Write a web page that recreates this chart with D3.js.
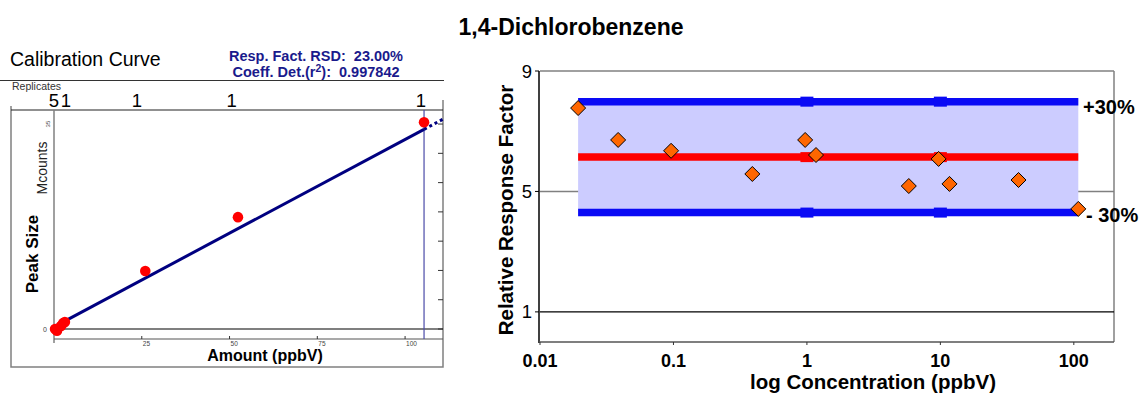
<!DOCTYPE html>
<html><head><meta charset="utf-8">
<script src="https://cdn.jsdelivr.net/npm/d3@7"></script>
<style>
body{margin:0;background:#fff;}
svg{display:block;font-family:"Liberation Sans",Arial,sans-serif;}
</style></head>
<body><svg id="c" width="1144" height="394"></svg>
<script>
// ---------- data ----------
const chartTitle = "1,4-Dichlorobenzene";
// calibration curve (left)
const calAmount = [0.3, 0.85, 2.0, 2.6, 3.1, 26.0, 52.4, 105.4];
const calPeak   = [0.0, -0.3, 0.5, 1.0, 1.2, 9.9, 19.1, 35.3];
const fitIntercept = 0.37, fitSlope = 0.32;
const fitStart = 0.8, fitEnd = 105.4, fitExtendTo = 110.8;
const replicateLevels = [0.0, 3.4, 23.6, 50.6, 104.5];
const replicateCounts = ["5", "1", "1", "1", "1"];
const amountTicks = [25, 50, 75, 100];
const peakTicks = [0, 5, 10, 15, 20, 25, 30, 35];
const peakLabelTicks = [0, 35];
const rsdText = "23.00%";
const r2Text = "0.997842";
// relative response factor (right)
const concentration = [0.0193, 0.0385, 0.096, 0.39, 0.97, 1.17, 5.8, 9.7, 11.7, 38.5, 108];
const rrf = [7.77, 6.71, 6.35, 5.58, 6.71, 6.21, 5.18, 6.08, 5.25, 5.38, 4.42];
const avgRRF = 6.14;
const limitPct = 0.30;
const concTicks = [0.01, 0.1, 1, 10, 100];
const concTickLabels = ["0.01", "0.1", "1", "10", "100"];
const rrfTicks = [1, 5, 9];
const bandMarkers = [1, 10];

const svg = d3.select("#c");

// ---------- title ----------
svg.append("text").attr("x", 571).attr("y", 35).attr("text-anchor", "middle")
  .attr("font-size", 23).attr("font-weight", "bold").text(chartTitle);

// ---------- left chart ----------
const L = svg.append("g");
L.append("text").attr("x", 10).attr("y", 66).attr("font-size", 19.5).text("Calibration Curve");
const info = L.append("g").attr("fill", "#1a1a8c").attr("font-weight", "bold").attr("font-size", 14.5);
info.append("text").attr("x", 316).attr("y", 61).attr("text-anchor", "middle")
  .attr("xml:space", "preserve").text("Resp. Fact. RSD:  " + rsdText);
const t2 = info.append("text").attr("x", 316).attr("y", 77).attr("text-anchor", "middle").attr("xml:space", "preserve");
t2.append("tspan").text("Coeff. Det.(r");
t2.append("tspan").attr("dy", -5).attr("font-size", 10.5).text("2");
t2.append("tspan").attr("dy", 5).text("):  " + r2Text);

L.append("line").attr("x1", 0).attr("x2", 444).attr("y1", 80.5).attr("y2", 80.5).attr("stroke", "#333").attr("stroke-width", 1);
L.append("text").attr("x", 12).attr("y", 89.5).attr("font-size", 10.5).attr("fill", "#333").text("Replicates");

const xA = d3.scaleLinear().domain([0, 110.8]).range([54, 443]);
const yA = d3.scaleLinear().domain([0, 37.4]).range([329, 110]);

// frame
L.append("path").attr("d", "M11,106 V367 H443 V100").attr("fill", "none").attr("stroke", "#808080").attr("stroke-width", 1.5);
// top axis line
L.append("line").attr("x1", 11).attr("x2", 443).attr("y1", 110).attr("y2", 110).attr("stroke", "#222").attr("stroke-width", 1.2);
L.append("line").attr("x1", 54).attr("x2", 54).attr("y1", 110).attr("y2", 343).attr("stroke", "#808080").attr("stroke-width", 1.5);
// replicate labels
L.selectAll(".rep").data(replicateLevels).join("text")
  .attr("x", d => xA(d)).attr("y", 107).attr("text-anchor", "middle").attr("font-size", 18.5)
  .text((d, i) => replicateCounts[i]);
// zero line
L.append("line").attr("x1", 54).attr("x2", 443).attr("y1", yA(0)).attr("y2", yA(0)).attr("stroke", "#000").attr("stroke-width", 1.2);
// bottom amount axis
const axB = L.append("g").attr("transform", "translate(0,339)");
axB.append("line").attr("x1", 54).attr("x2", 443).attr("stroke", "#555").attr("stroke-width", 1.2);
axB.selectAll(".t").data(amountTicks).join("line").attr("x1", d => xA(d)).attr("x2", d => xA(d)).attr("y1", -3).attr("y2", 0).attr("stroke", "#333");
axB.selectAll(".tl").data(amountTicks).join("text").attr("x", d => xA(d) + 1).attr("y", 7).attr("font-size", 6.5).attr("fill", "#444").text(d => d);
L.append("text").attr("x", 265).attr("y", 361).attr("text-anchor", "middle").attr("font-size", 16).attr("font-weight", "bold").text("Amount (ppbV)");
// right tick marks
L.selectAll(".rt").data(peakTicks).join("line").attr("x1", 438).attr("x2", 443)
  .attr("y1", d => yA(d)).attr("y2", d => yA(d)).attr("stroke", "#333").attr("stroke-width", 1);
// peak labels
L.append("text").attr("x", 47).attr("y", yA(0) + 3).attr("text-anchor", "end").attr("font-size", 7).attr("fill", "#444").text(peakLabelTicks[0]);
L.append("text").attr("transform", `translate(50,${yA(35)}) rotate(-90)`).attr("text-anchor", "middle").attr("font-size", 6).attr("fill", "#444").text(peakLabelTicks[1]);
L.append("text").attr("transform", "translate(47,168) rotate(-90)").attr("text-anchor", "middle").attr("font-size", 14).attr("fill", "#222").text("Mcounts");
L.append("text").attr("transform", "translate(38,254) rotate(-90)").attr("text-anchor", "middle").attr("font-size", 17).attr("font-weight", "bold").text("Peak Size");
// vertical line at last level
L.append("line").attr("x1", xA(fitEnd)).attr("x2", xA(fitEnd)).attr("y1", 110).attr("y2", 339).attr("stroke", "#4a4aa8").attr("stroke-width", 1.2);
// fit line
const fy = x => fitIntercept + fitSlope * x;
L.append("line").attr("x1", xA(fitStart)).attr("y1", yA(fy(fitStart))).attr("x2", xA(fitEnd)).attr("y2", yA(fy(fitEnd)))
  .attr("stroke", "#000080").attr("stroke-width", 3);
L.append("line").attr("x1", xA(fitEnd)).attr("y1", yA(fy(fitEnd))).attr("x2", xA(fitExtendTo)).attr("y2", yA(fy(fitExtendTo)))
  .attr("stroke", "#000080").attr("stroke-width", 3).attr("stroke-dasharray", "3,3");
// points
L.selectAll(".pt").data(calAmount).join("circle").attr("cx", d => xA(d)).attr("cy", (d, i) => yA(calPeak[i]))
  .attr("r", 5.3).attr("fill", "#ff0000");

// ---------- right chart ----------
const R = svg.append("g");
const xR = d3.scaleLog().domain([0.01, 200]).range([540, 1114]);
const yR = d3.scaleLinear().domain([0, 9]).range([342, 71]);
// frame + grid
R.append("line").attr("x1", 540).attr("x2", 1114).attr("y1", yR(9)).attr("y2", yR(9)).attr("stroke", "#808080").attr("stroke-width", 1.5);
R.append("line").attr("x1", 1114).attr("x2", 1114).attr("y1", yR(9)).attr("y2", 342).attr("stroke", "#808080").attr("stroke-width", 1.5);
R.append("line").attr("x1", 540).attr("x2", 1114).attr("y1", yR(5)).attr("y2", yR(5)).attr("stroke", "#808080").attr("stroke-width", 1.5);
R.append("line").attr("x1", 540).attr("x2", 1114).attr("y1", yR(1)).attr("y2", yR(1)).attr("stroke", "#000").attr("stroke-width", 1.2);
// band
const up = avgRRF * (1 + limitPct), lo = avgRRF * (1 - limitPct);
const x0 = xR(d3.min(concentration)), x1 = xR(d3.max(concentration));
R.append("rect").attr("x", x0).attr("y", yR(up) - 3.5).attr("width", x1 - x0).attr("height", yR(lo) - yR(up) + 7).attr("fill", "#ccccff");
[[up, "#0a0af5"], [avgRRF, "#ff0000"], [lo, "#0a0af5"]].forEach(([v, c]) => {
  R.append("line").attr("x1", x0).attr("x2", x1).attr("y1", yR(v)).attr("y2", yR(v)).attr("stroke", c).attr("stroke-width", 7.5);
  R.selectAll(null).data(bandMarkers).join("rect").attr("x", d => xR(d) - 6.5).attr("y", yR(v) - 5).attr("width", 13).attr("height", 10).attr("fill", c);
});
// axes
R.append("line").attr("x1", 539).attr("x2", 539).attr("y1", yR(9)).attr("y2", 343).attr("stroke", "#000").attr("stroke-width", 1.5);
R.append("line").attr("x1", 539).attr("x2", 1114).attr("y1", 342).attr("y2", 342).attr("stroke", "#555").attr("stroke-width", 1.5);
R.selectAll(".yt").data(rrfTicks).join("line").attr("x1", 535).attr("x2", 539).attr("y1", d => yR(d)).attr("y2", d => yR(d)).attr("stroke", "#000");
R.selectAll(".ytl").data(rrfTicks).join("text").attr("x", 532).attr("y", d => yR(d) + 6.5).attr("text-anchor", "end").attr("font-size", 18.5).text(d => d);
R.selectAll(".xt").data(concTicks).join("line").attr("x1", d => xR(d)).attr("x2", d => xR(d)).attr("y1", 342).attr("y2", 345).attr("stroke", "#333");
R.selectAll(".xtl").data(concTicks).join("text").attr("x", d => xR(d)).attr("y", 367).attr("text-anchor", "middle")
  .attr("font-size", 18).attr("font-weight", "bold").text((d, i) => concTickLabels[i]);
R.append("text").attr("x", 873).attr("y", 389).attr("text-anchor", "middle").attr("font-size", 20.5).attr("font-weight", "bold").text("log Concentration (ppbV)");
R.append("text").attr("transform", "translate(513,210) rotate(-90)").attr("text-anchor", "middle").attr("font-size", 20.5).attr("font-weight", "bold").text("Relative Response Factor");
// diamonds
const dsz = 7.5;
R.selectAll(".dm").data(concentration).join("path")
  .attr("d", (d, i) => { const cx = xR(d), cy = yR(rrf[i]); return `M${cx},${cy - dsz}L${cx + dsz},${cy}L${cx},${cy + dsz}L${cx - dsz},${cy}Z`; })
  .attr("fill", "#ff6600").attr("stroke", "#000").attr("stroke-width", 1);
// limit labels
R.append("text").attr("x", 1083).attr("y", 114).attr("font-size", 20).attr("font-weight", "bold").text("+" + Math.round(limitPct * 100) + "%");
R.append("text").attr("x", 1086).attr("y", 222).attr("font-size", 20).attr("font-weight", "bold").attr("xml:space", "preserve").text("- " + Math.round(limitPct * 100) + "%");
</script></body></html>
